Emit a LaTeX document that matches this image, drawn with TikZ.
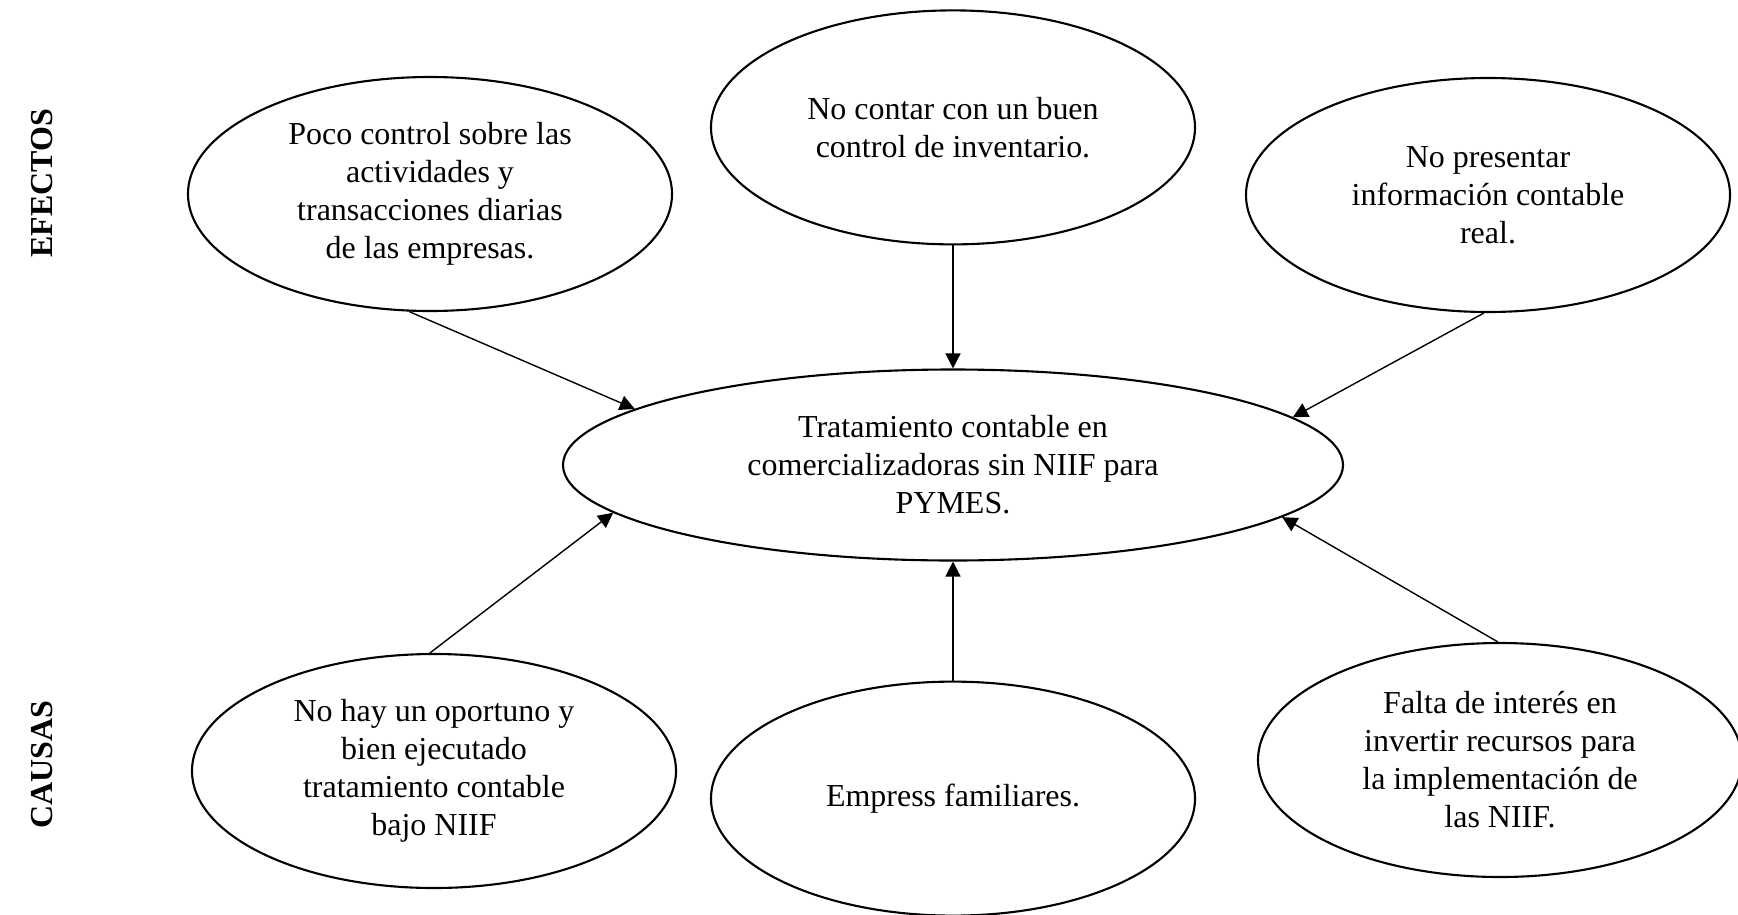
\documentclass[tikz,border=0pt]{standalone}
\usepackage{fontspec}
\setmainfont{Liberation Serif}
\usetikzlibrary{arrows.meta, positioning, shapes.geometric}

\begin{document}
\begin{tikzpicture}[
      every node/.style={font=\fontsize{9.1}{10.8}\selectfont, align=center},
      box/.style={ellipse, draw, line width=0.6pt, inner sep=0pt,
        minimum width=4.84cm, minimum height=2.34cm},
      flecha/.style={->, line width=0.4pt},
      >={Triangle[length=1.5mm, width=1.5mm]}
    ]
      \useasboundingbox (0,0) rectangle (17.38,9.14);

      \node[box, minimum width=7.8cm, minimum height=1.91cm] (p) at (9.53,4.49)
        {Tratamiento contable en\\ comercializadoras sin NIIF para\\ PYMES.};

      % efectos
      \node[box] (e1) at (4.30,7.20) {Poco control sobre las\\ actividades y\\ transacciones diarias\\ de las empresas.};
      \node[box, above=1.23cm of p] (e2) {No contar con un buen\\ control de inventario.};
      \node[box] (e3) at (14.88,7.19) {No presentar\\ información contable\\ real.};

      % causas
      \node[box] (c1) at (4.34,1.43) {No hay un oportuno y\\ bien ejecutado\\ tratamiento contable\\ bajo NIIF};
      \node[box, below=1.19cm of p] (c2) {Empress familiares.};
      \node[box] (c3) at (15.00,1.54) {Falta de interés en\\ invertir recursos para\\ la implementación de\\ las NIIF.};

      \node[rotate=90, font=\fontsize{9.1}{10.8}\selectfont\bfseries] (ef) at (0.42,7.31) {EFECTOS};
      \node[rotate=90, font=\fontsize{9.1}{10.8}\selectfont\bfseries] (ca) at (0.42,1.49) {CAUSAS};

      \draw[flecha] (e1.-100) -- (p.170);
      \draw[flecha] (e2) -- (p);
      \draw[flecha] (e3.-92) -- (p.8);
      \draw[flecha] (c1.92) -- (p.188);
      \draw[flecha] (c2) -- (p);
      \draw[flecha] (c3.91) -- (p.-9);
    \end{tikzpicture}
\end{document}
